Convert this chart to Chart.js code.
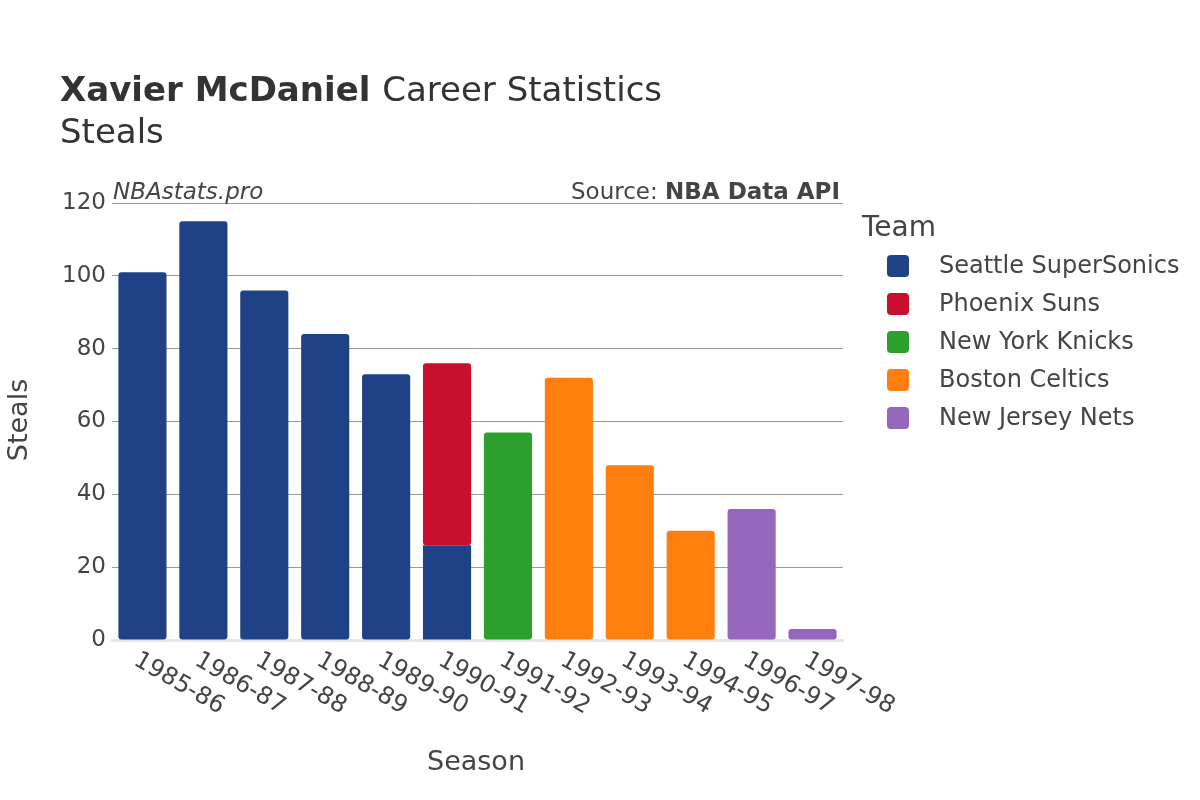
<!DOCTYPE html>
<html><head><meta charset="utf-8">
<script src="https://cdn.jsdelivr.net/npm/chart.js@4"></script>
<style>html,body{margin:0;background:#fff}#w{width:1200px;height:800px}</style>
</head><body><div id="w"><canvas id="c"></canvas></div>
<script>
const seasons=["1985-86","1986-87","1987-88","1988-89","1989-90","1990-91","1991-92","1992-93","1993-94","1994-95","1996-97","1997-98"];
const teams=["Seattle SuperSonics","Phoenix Suns","New York Knicks","Boston Celtics","New Jersey Nets"];
const colors=["#1f4287","#c8102e","#2ca02c","#ff7f0e","#9467bd"];
const sonics=[101,115,96,84,73,26,null,null,null,null,null,null];
const suns=[null,null,null,null,null,50,null,null,null,null,null,null];
const knicks=[null,null,null,null,null,null,57,null,null,null,null,null];
const celtics=[null,null,null,null,null,null,null,72,48,30,null,null];
const nets=[null,null,null,null,null,null,null,null,null,null,36,3];
const yTicks=[0,20,40,60,80,100,120];
const F="'DejaVu Sans', sans-serif";
const series=[sonics,suns,knicks,celtics,nets];
const deco={id:'deco',afterDraw(ch){
 const c=ch.ctx,a=ch.chartArea,x=ch.scales.x;
 c.save();c.fillStyle='#333';c.textBaseline='alphabetic';
 c.font='bold 34px '+F;c.textAlign='left';c.fillText('Xavier McDaniel',60,101);
 const w=c.measureText('Xavier McDaniel ').width;
 c.font='34px '+F;c.fillText('Career Statistics',60+w,101);
 c.fillText('Steals',60,143);
 c.font='italic 23px '+F;c.fillStyle='#444';c.fillText('NBAstats.pro',113,199);
 c.textAlign='right';c.font='bold 23px '+F;c.fillText('NBA Data API',840,199);
 const bw=c.measureText('NBA Data API').width;c.font='23px '+F;c.fillText('Source: ',840-bw,199);
 c.font='27px '+F;c.textAlign='center';c.fillText('Season',476,770);
 c.save();c.translate(27,420);c.rotate(-Math.PI/2);c.fillText('Steals',0,0);c.restore();
 c.font='24px '+F;c.textAlign='left';
 seasons.forEach((s,i)=>{const px=x.getPixelForValue(i);c.save();c.translate(px-10,664);c.rotate(Math.PI/6);c.fillText(s,0,0);c.restore();});
 c.font='28px '+F;c.fillText('Team',862,236);
 c.font='24px '+F;
 teams.forEach((t,i)=>{const y=266+i*38;c.fillStyle=colors[i];c.beginPath();c.roundRect(887,y-11,22,22,4);c.fill();c.fillStyle='#444';c.textBaseline='middle';c.fillText(t,939,y+1);c.textBaseline='alphabetic';});
 c.restore();}};
new Chart(document.getElementById('c'),{type:'bar',
 data:{labels:seasons,datasets:teams.map((t,i)=>({label:t,data:series[i],backgroundColor:colors[i],borderRadius:3,borderSkipped:false,barPercentage:0.79,categoryPercentage:1}))},
 options:{responsive:true,maintainAspectRatio:false,animation:false,
  layout:{padding:{top:203,right:357,bottom:152,left:0}},
  plugins:{legend:{display:false},tooltip:{enabled:false}},
  scales:{x:{stacked:true,ticks:{display:false},grid:{display:false},border:{color:'#e6e6e6',width:3}},
   y:{stacked:true,min:0,max:120,afterBuildTicks(s){s.ticks=yTicks.map(v=>({value:v}));},afterFit(s){s.width=112;},
    ticks:{font:{family:F,size:23},color:'#444',padding:6},grid:{color:'#999',drawTicks:false},border:{display:false}}}},
 plugins:[deco]});
</script></body></html>
